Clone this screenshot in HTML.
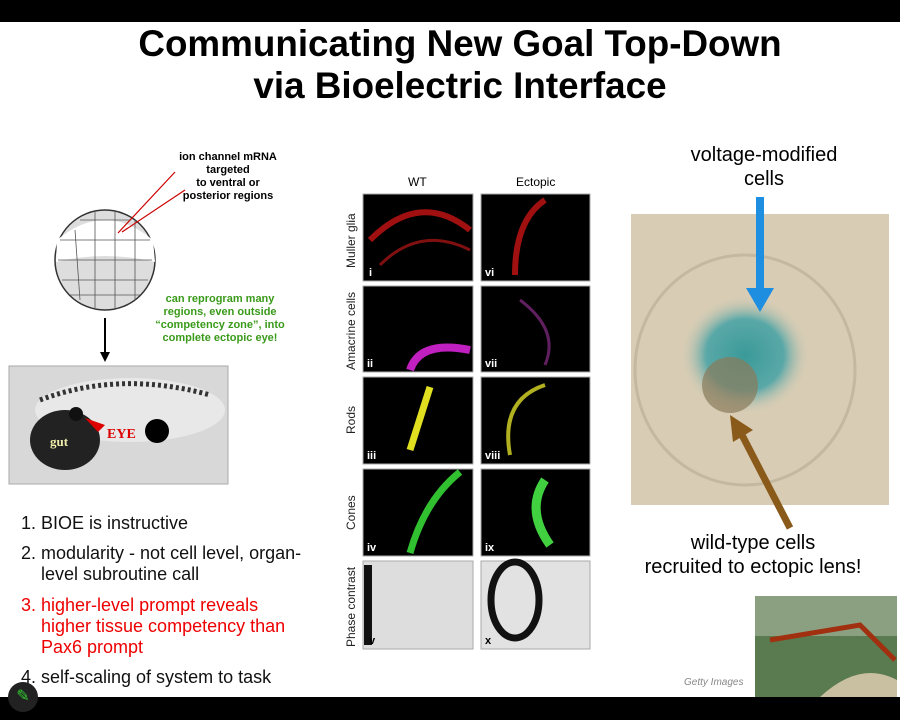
<!DOCTYPE html>
<html><head><meta charset="utf-8"><style>
body{margin:0;width:900px;height:720px;background:#fff;position:relative;overflow:hidden;font-family:"Liberation Sans",sans-serif}
.a{position:absolute}
.rl{position:absolute;transform:rotate(-90deg);transform-origin:left top;font-size:12px;color:#222;white-space:nowrap}
.li{position:absolute;left:21px;white-space:nowrap;padding-left:20px;text-indent:-20px;font-size:18px;line-height:21px;color:#111}
</style></head><body>
<div class="a" style="left:0;top:0;width:900px;height:22px;background:#000"></div>
<div class="a" style="left:0;top:697px;width:900px;height:23px;background:#000"></div>
<div class="a" style="left:0;top:23px;width:920px;text-align:center;font-weight:bold;font-size:36.8px;line-height:42px;color:#000">Communicating New Goal Top-Down<br>via Bioelectric Interface</div>

<div class="a" style="left:162px;top:151px;width:132px;text-align:center;font-weight:bold;font-size:11px;line-height:13px">ion channel mRNA<br>targeted<br>to ventral or<br>posterior regions</div>
<svg class="a" style="left:0;top:0" width="330" height="500">
<circle cx="105" cy="260" r="50" fill="#ddd" stroke="#333" stroke-width="1.5"/>
<path d="M57 240 Q105 200 153 240 L155 262 Q105 250 56 262Z" fill="#fff"/>
<g stroke="#555" stroke-width="0.8" fill="none">
<path d="M60 240 L150 240 M58 260 L152 260 M62 280 L148 280 M70 295 L140 295 M80 220 L130 220 M75 230 L80 300 M95 212 L95 308 M115 212 L115 308 M135 220 L135 300"/></g>
<line x1="118" y1="233" x2="175" y2="172" stroke="#c00" stroke-width="1.2"/>
<line x1="122" y1="232" x2="185" y2="190" stroke="#c00" stroke-width="1.2"/>
<line x1="105" y1="318" x2="105" y2="355" stroke="#000" stroke-width="2"/>
<polygon points="100,352 110,352 105,362" fill="#000"/>
<rect x="9" y="366" width="219" height="118" fill="#d8d8d8" stroke="#aaa"/>
<ellipse cx="130" cy="410" rx="95" ry="32" fill="#e8e8e8"/>
<path d="M40 400 Q120 370 210 395" stroke="#333" stroke-width="5" fill="none" stroke-dasharray="3 3"/>
<ellipse cx="65" cy="440" rx="35" ry="30" fill="#222"/>
<circle cx="76" cy="414" r="7" fill="#111"/>
<circle cx="157" cy="431" r="12" fill="#000"/>
<polygon points="85,418 105,425 98,432" fill="#d00"/>
<text x="50" y="446" fill="#eea" font-family="Liberation Serif" font-weight="bold" font-size="13">gut</text>
<text x="107" y="438" fill="#d00" font-family="Liberation Serif" font-weight="bold" font-size="14">EYE</text>
</svg>
<div class="a" style="left:150px;top:293px;width:140px;text-align:center;font-weight:bold;font-size:11px;line-height:13px;color:#3a9a1a">can reprogram many<br>regions, even outside<br>“competency zone”, into<br>complete ectopic eye!</div>

<div class="li" style="top:513px">1. BIOE is instructive</div>
<div class="li" style="top:543px">2. modularity - not cell level, organ-<br>level subroutine call</div>
<div class="li" style="top:595px;color:#e00">3. higher-level prompt reveals<br>higher tissue competency than<br>Pax6 prompt</div>
<div class="li" style="top:667px">4. self-scaling of system to task</div>
<div class="a" style="left:8px;top:682px;width:30px;height:30px;border-radius:50%;background:#222;color:#3c3;text-align:center;line-height:30px;font-size:16px">✎</div>

<div class="a" style="left:408px;top:175px;font-size:12px">WT</div>
<div class="a" style="left:516px;top:175px;font-size:12px">Ectopic</div>
<div class="rl" style="left:344px;top:268px">Muller glia</div>
<div class="rl" style="left:344px;top:370px">Amacrine cells</div>
<div class="rl" style="left:344px;top:434px">Rods</div>
<div class="rl" style="left:344px;top:530px">Cones</div>
<div class="rl" style="left:344px;top:647px">Phase contrast</div>
<svg class="a" style="left:0;top:0" width="600" height="660">
<rect x="363" y="194" width="110" height="87" fill="#000" stroke="#aaa"/>
<rect x="481" y="194" width="109" height="87" fill="#000" stroke="#aaa"/>
<rect x="363" y="286" width="110" height="86" fill="#000" stroke="#aaa"/>
<rect x="481" y="286" width="109" height="86" fill="#000" stroke="#aaa"/>
<rect x="363" y="377" width="110" height="87" fill="#000" stroke="#aaa"/>
<rect x="481" y="377" width="109" height="87" fill="#000" stroke="#aaa"/>
<rect x="363" y="469" width="110" height="87" fill="#000" stroke="#aaa"/>
<rect x="481" y="469" width="109" height="87" fill="#000" stroke="#aaa"/>
<rect x="363" y="561" width="110" height="88" fill="#ddd" stroke="#aaa"/>
<rect x="481" y="561" width="109" height="88" fill="#e2e2e2" stroke="#aaa"/>
<path d="M370 240 Q420 190 470 230" stroke="#a01010" stroke-width="6" fill="none"/>
<path d="M380 265 Q420 225 470 250" stroke="#801010" stroke-width="3" fill="none"/>
<path d="M515 275 Q515 220 545 200" stroke="#a01010" stroke-width="6" fill="none"/>
<path d="M410 370 Q420 340 470 350" stroke="#c020c0" stroke-width="8" fill="none"/>
<path d="M520 300 Q560 330 545 365" stroke="#602060" stroke-width="3" fill="none"/>
<path d="M410 450 L430 387" stroke="#e0e020" stroke-width="7" fill="none"/>
<path d="M510 455 Q500 400 545 385" stroke="#b0b020" stroke-width="4" fill="none"/>
<path d="M410 553 Q425 500 460 472" stroke="#30c030" stroke-width="7" fill="none"/>
<path d="M550 545 Q525 510 545 480" stroke="#40d040" stroke-width="9" fill="none"/>
<path d="M368 565 L368 645" stroke="#111" stroke-width="8"/>
<ellipse cx="515" cy="600" rx="24" ry="38" fill="none" stroke="#111" stroke-width="7"/>
<g fill="#fff" font-family="Liberation Sans" font-weight="bold" font-size="11">
<text x="369" y="276">i</text><text x="485" y="276">vi</text>
<text x="367" y="367">ii</text><text x="485" y="367">vii</text>
<text x="367" y="459">iii</text><text x="485" y="459">viii</text>
<text x="367" y="551">iv</text><text x="485" y="551">ix</text></g>
<g fill="#000" font-family="Liberation Sans" font-weight="bold" font-size="11">
<text x="369" y="644">v</text><text x="485" y="644">x</text></g>
</svg>

<div class="a" style="left:644px;top:143px;width:240px;text-align:center;font-size:20px;line-height:24px">voltage-modified<br>cells</div>
<svg class="a" style="left:0;top:0" width="900" height="700">
<defs><radialGradient id="g" cx="50%" cy="50%" r="50%"><stop offset="0" stop-color="#3a9a98"/><stop offset="0.6" stop-color="#5aa8a8"/><stop offset="1" stop-color="#d8ccb4" stop-opacity="0"/></radialGradient></defs>
<rect x="631" y="214" width="258" height="291" fill="#d8ccb4"/>
<ellipse cx="745" cy="370" rx="110" ry="115" fill="none" stroke="#c4b8a0" stroke-width="3"/>
<ellipse cx="745" cy="355" rx="65" ry="60" fill="url(#g)"/>
<circle cx="730" cy="385" r="28" fill="#8a7a5a" opacity="0.7"/>
<rect x="756" y="197" width="8" height="93" fill="#1e8ee0"/>
<polygon points="746,288 774,288 760,312" fill="#1e8ee0"/>
<line x1="790" y1="528" x2="742" y2="435" stroke="#8a5a1a" stroke-width="7"/>
<polygon points="730,415 753,430 733,442" fill="#8a5a1a"/>
<rect x="755" y="596" width="142" height="101" fill="#5a7a50"/>
<rect x="755" y="596" width="142" height="40" fill="#8aa080"/>
<path d="M770 640 L860 625 L895 660" stroke="#a03010" stroke-width="5" fill="none"/>
<path d="M820 697 Q860 660 897 680 L897 697Z" fill="#c8c0a0"/>
</svg>
<div class="a" style="left:623px;top:531px;width:260px;text-align:center;font-size:20px;line-height:24px">wild-type cells<br>recruited to ectopic lens!</div>
<div class="a" style="left:684px;top:677px;font-size:10px;font-style:italic;color:#888">Getty Images</div>
</body></html>
